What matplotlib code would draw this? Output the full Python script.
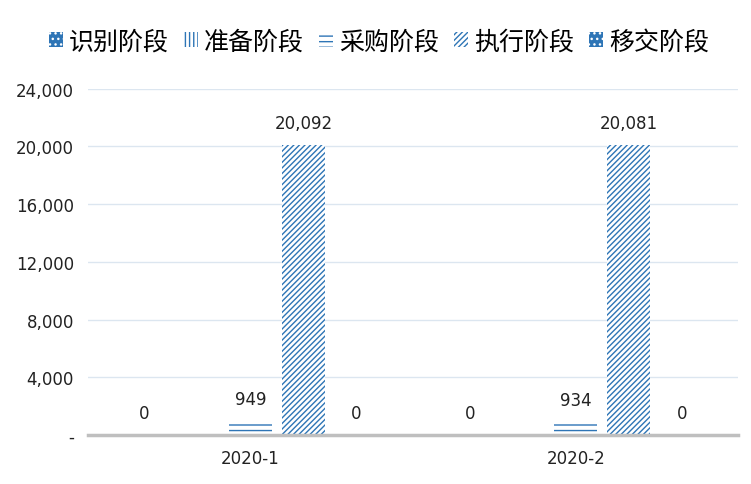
import numpy as np
import matplotlib.pyplot as plt
from matplotlib.ticker import FuncFormatter

plt.rcParams['font.family'] = ['Noto Sans CJK SC', 'DejaVu Sans']
plt.rcParams['hatch.linewidth'] = 1.0

# data
periods = ['2020-1', '2020-2']
stages = ['识别阶段', '准备阶段', '采购阶段', '执行阶段', '移交阶段']
shibie = [0, 0]
zhunbei = [0, 0]
caigou = [949, 934]
zhixing = [20092, 20081]
yijiao = [0, 0]
yticks = [0, 4000, 8000, 12000, 16000, 20000, 24000]

blue = '#2E75B6'
series = [shibie, zhunbei, caigou, zhixing, yijiao]
styles = [
    dict(facecolor=blue, edgecolor='white', hatch='...'),
    dict(facecolor='white', edgecolor=blue, hatch='||||'),
    dict(facecolor='white', edgecolor=blue, hatch='---'),
    dict(facecolor='white', edgecolor=blue, hatch='//////'),
    dict(facecolor=blue, edgecolor='white', hatch='...'),
]
show_label = [True, False, True, True, True]

fig = plt.figure(figsize=(7.51, 4.85), dpi=100)
ax = fig.add_axes([0.117, 0.101, 0.866, 0.714])

x = np.arange(len(periods))
step = 0.163
width = 0.132
bars = []
for i, (vals, st) in enumerate(zip(series, styles)):
    pos = x + (i - 2) * step
    b = ax.bar(pos, vals, width, label=stages[i], linewidth=0, **st)
    bars.append(b)
    if show_label[i]:
        for p, v in zip(pos, vals):
            ax.text(p, v + 900, f'{v:,}', ha='center', va='bottom',
                    fontsize=12, color='#222222', family='DejaVu Sans')

ax.set_xlim(-0.5, 1.5)
ax.set_ylim(0, 24000)
ax.set_yticks(yticks)
ax.yaxis.set_major_formatter(FuncFormatter(lambda v, p: '-' if v == 0 else f'{int(v):,}'))
ax.set_xticks(x)
ax.set_xticklabels(periods)
ax.tick_params(axis='both', length=0, labelsize=12, colors='#222222', pad=10)
for lab in ax.get_xticklabels() + ax.get_yticklabels():
    lab.set_family('DejaVu Sans')

ax.grid(axis='y', color='#DCE6F0', linewidth=1)
ax.set_axisbelow(True)
for s in ['top', 'right', 'left']:
    ax.spines[s].set_visible(False)
ax.spines['bottom'].set_color('#BFBFBF')
ax.spines['bottom'].set_linewidth(2.5)

fig.legend(handles=bars, labels=stages, loc='upper center', ncol=5,
           bbox_to_anchor=(0.505, 0.96), frameon=False, fontsize=18,
           handlelength=0.55, handleheight=0.55, handletextpad=0.25,
           columnspacing=0.6, borderaxespad=0)

fig.savefig('out.png', dpi=100)
